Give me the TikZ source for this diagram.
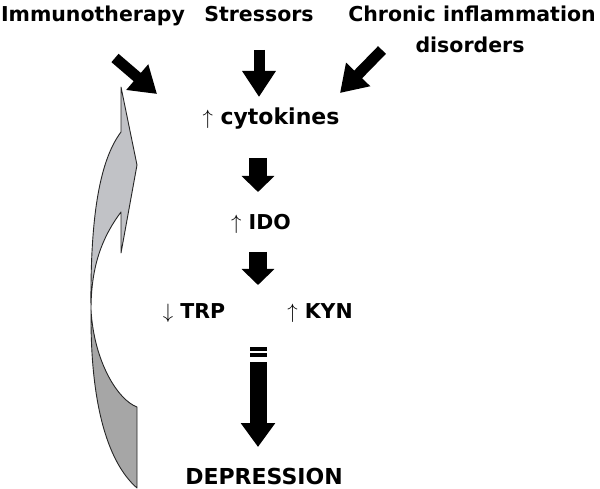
\documentclass[tikz,border=0pt]{standalone}
\usepackage{fontspec}
\setmainfont{DejaVu Sans}
\usepackage{tikz}
\usetikzlibrary{arrows.meta, positioning}
\definecolor{ribbonLight}{RGB}{193,194,198}
\definecolor{ribbonDark}{RGB}{166,166,166}
\tikzstyle{term} = [font=\bfseries\fontsize{20.5}{24}\selectfont, inner sep=0pt, anchor=base]
\tikzstyle{bigterm} = [font=\bfseries\fontsize{22}{26}\selectfont, inner sep=0pt, anchor=base]
\tikzstyle{fatarrow} = [line width=11pt, -{Triangle[length=26pt,width=32pt]}]
\tikzstyle{stubarrow} = [line width=18pt, -{Triangle[length=16pt,width=32pt]}]
\tikzstyle{ribbon} = [draw=black!85, line width=0.9pt, line join=round]

\begin{document}
\begin{tikzpicture}[x=1pt, y=-1pt]
\useasboundingbox (0,0) rectangle (600,489);
% causes
\node (immuno) [term] at (93,22) {Immunotherapy};
\node (stress) [term] at (259,22) {Stressors};
\node (chronic) [term] at (472,22) {Chronic inflammation};
\node (disorders) [term] at (470,53) {disorders};
% chain
\node (cyto) [term, font=\bfseries\fontsize{22}{26}\selectfont] at (271,125) {$\uparrow$ cytokines};
\node (ido) [term] at (261,230) {$\uparrow$ IDO};
\node (trp) [term] at (194,318) {$\downarrow$ TRP};
\node (kyn) [term] at (320,318) {$\uparrow$ KYN};
\node (depr) [bigterm] at (264,484) {DEPRESSION};

% arrow ends
\coordinate (immunoTail) at (115,58);
\coordinate (immunoTip) at (157,94);
\coordinate (stressTail) at (259,50);
\coordinate (stressTip) at (259,97);
\coordinate (chronicTail) at (382,50);
\coordinate (chronicTip) at (340,93);
\coordinate (cytoOut) at (258,158);
\coordinate (idoIn) at (258,192);
\coordinate (idoOut) at (258,252);
\coordinate (kynIn) at (258,285);
\coordinate (deprOut) at (258,362);
\coordinate (deprIn) at (258,447);

\draw [fatarrow] (immunoTail) -- (immunoTip);
\draw [fatarrow] (stressTail) -- (stressTip);
\draw [fatarrow] (chronicTail) -- (chronicTip);
\draw [stubarrow] (cytoOut) -- (idoIn);
\draw [stubarrow] (idoOut) -- (kynIn);
% double bar over the last arrow
\fill (249.5,347) rectangle (266.5,351);
\fill (249.5,353) rectangle (266.5,357);
\draw [line width=17pt, -{Triangle[length=24pt,width=33pt]}] (deprOut) -- (deprIn);

% feedback ribbon
\filldraw [ribbon, fill=ribbonDark] (91,310) .. controls (90,420) and (114,468) .. (137,488)
  -- (137,407) .. controls (118,400) and (94,362) .. (91,310) -- cycle;
\filldraw [ribbon, fill=ribbonLight] (121,87) -- (121,132)
  .. controls (100,160) and (90,215) .. (91,310)
  .. controls (91,270) and (100,240) .. (121,212)
  -- (121,253) -- (137,165) -- cycle;
\end{tikzpicture}
\end{document}
